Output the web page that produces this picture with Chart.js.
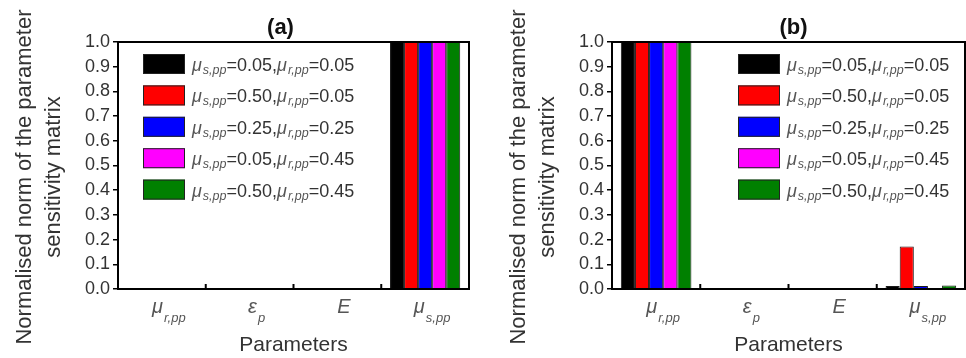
<!DOCTYPE html>
<html>
<head>
<meta charset="utf-8">
<script src="https://cdn.jsdelivr.net/npm/chart.js@4.4.1/dist/chart.umd.min.js"></script>
<style>
    body { margin: 0; background: #fff; }
    .row { display: flex; width: 966px; height: 358px; }
    .panel { position: relative; width: 483px; height: 358px; }
</style>
</head>
<body>
<div class="row">
    <div class="panel"><canvas id="chartA"></canvas></div>
    <div class="panel"><canvas id="chartB"></canvas></div>
</div>
<script>
// "_{...}" marks a subscript, letters outside it are set in italics
const categories = ['μ_{r,pp}', 'ε_{p}', 'E', 'μ_{s,pp}'];
const frictionCases = [
    'μ_{s,pp}=0.05,μ_{r,pp}=0.05',
    'μ_{s,pp}=0.50,μ_{r,pp}=0.05',
    'μ_{s,pp}=0.25,μ_{r,pp}=0.25',
    'μ_{s,pp}=0.05,μ_{r,pp}=0.45',
    'μ_{s,pp}=0.50,μ_{r,pp}=0.45'
];
const caseColors = ['#000000', '#ff0000', '#0000ff', '#ff00ff', '#008000'];

// one row per friction case, one value per parameter
const normsA = [
    [0, 0, 0, 1],
    [0, 0, 0, 1],
    [0, 0, 0, 1],
    [0, 0, 0, 1],
    [0, 0, 0, 1]
];
const normsB = [
    [1, 0, 0, 0.012],
    [1, 0, 0, 0.172],
    [1, 0, 0, 0.012],
    [1, 0, 0, 0],
    [1, 0, 0, 0.014]
];

const FONT = 'Liberation Sans, Arial, Helvetica, sans-serif';
const TEXT = '#333';
const SYMBOL = '#555';
Chart.defaults.font.family = FONT;

function parseRich(str) {
    const runs = [];
    const re = /_\{([^}]*)\}/g;
    let last = 0, m;
    const pushPlain = s => {
        // split letters (italic) from digits and signs
        s.split(/([A-Za-zα-ωΑ-Ω]+)/).forEach(part => {
            if (!part) return;
            runs.push({ t: part, kind: /[A-Za-zα-ωΑ-Ω]/.test(part) ? 'sym' : 'plain' });
        });
    };
    while ((m = re.exec(str)) !== null) {
        pushPlain(str.slice(last, m.index));
        runs.push({ t: m[1], kind: 'sub' });
        last = re.lastIndex;
    }
    pushPlain(str.slice(last));
    return runs;
}

function drawRich(ctx, str, x, y, size, subSize, subDrop, align) {
    const runs = parseRich(str);
    const fontOf = r => r.kind === 'plain' ? `${size}px ${FONT}` :
        r.kind === 'sub' ? `italic ${subSize}px ${FONT}` : `italic ${size}px ${FONT}`;
    let total = 0;
    runs.forEach(r => {
        ctx.font = fontOf(r);
        r.w = ctx.measureText(r.t).width + (r.kind === 'sym' ? 1 : 0);
        total += r.w;
    });
    let cx = align === 'center' ? x - total / 2 : x;
    ctx.textAlign = 'left';
    ctx.textBaseline = 'alphabetic';
    runs.forEach(r => {
        ctx.font = fontOf(r);
        ctx.fillStyle = r.kind === 'plain' ? TEXT : SYMBOL;
        ctx.fillText(r.t, cx, y + (r.kind === 'sub' ? subDrop : 0));
        cx += r.w;
    });
}

// panel title, frame, inner x ticks, rich x labels, y title and legend
const panelDecor = {
    id: 'panelDecor',
    afterDraw(chart, args, opts) {
        const { ctx, chartArea: a, scales: { x } } = chart;
        ctx.save();

        ctx.strokeStyle = '#000';
        ctx.lineWidth = 2;
        ctx.strokeRect(a.left, a.top, a.right - a.left, a.bottom - a.top);

        for (let i = 0; i < categories.length - 1; i++) {
            const bx = (x.getPixelForValue(i) + x.getPixelForValue(i + 1)) / 2;
            ctx.beginPath();
            ctx.moveTo(bx, a.bottom);
            ctx.lineTo(bx, a.bottom - 5);
            ctx.stroke();
        }

        categories.forEach((c, i) => {
            drawRich(ctx, c, x.getPixelForValue(i) + 7, a.bottom + 24, 20, 13, 9, 'center');
        });

        ctx.fillStyle = '#111';
        ctx.font = `bold 22px ${FONT}`;
        ctx.textAlign = 'center';
        ctx.textBaseline = 'middle';
        ctx.fillText(opts.title, (a.left + a.right) / 2 + opts.titleShift, 28);

        ctx.fillStyle = TEXT;
        ctx.font = `22px ${FONT}`;
        ['Normalised norm of the parameter', 'sensitivity matrix'].forEach((line, i) => {
            ctx.save();
            ctx.translate(a.left - 93 + i * 29, 177);
            ctx.rotate(-Math.PI / 2);
            ctx.fillText(line, 0, 0);
            ctx.restore();
        });

        const lx = opts.legendSide === 'left' ? a.left + 25 : a.right - 227;
        chart.data.datasets.forEach((ds, i) => {
            const cy = a.top + 22 + i * 31.4;
            ctx.fillStyle = ds.backgroundColor;
            ctx.fillRect(lx, cy - 10, 42, 20);
            ctx.strokeStyle = '#222';
            ctx.lineWidth = 1;
            ctx.strokeRect(lx + 0.5, cy - 9.5, 41, 19);
            drawRich(ctx, ds.label, lx + 49, cy + 7, 18, 12.5, 3, 'left');
        });

        ctx.restore();
    }
};

function makeChart(id, norms, decor) {
    return new Chart(document.getElementById(id), {
        type: 'bar',
        data: {
            labels: categories,
            datasets: frictionCases.map((label, i) => ({
                label: label,
                data: norms[i],
                backgroundColor: caseColors[i],
                borderColor: '#1a1a1a',
                borderWidth: 1,
                categoryPercentage: 0.8,
                barPercentage: 1
            }))
        },
        options: {
            responsive: true,
            maintainAspectRatio: false,
            animation: false,
            layout: { padding: { top: 42, right: decor.padRight, bottom: 0, left: 0 } },
            plugins: {
                legend: { display: false },
                tooltip: { enabled: false },
                panelDecor: decor
            },
            scales: {
                x: {
                    grid: { display: false },
                    border: { display: true, color: '#000', width: 2 },
                    ticks: { display: false },
                    title: {
                        display: true,
                        text: 'Parameters',
                        color: TEXT,
                        font: { size: 21 },
                        padding: { top: 0, bottom: 0 }
                    },
                    afterFit(scale) { scale.height = 69; }
                },
                y: {
                    min: 0,
                    max: 1,
                    ticks: {
                        stepSize: 0.1,
                        callback: v => v.toFixed(1),
                        color: TEXT,
                        font: { size: 18 },
                        padding: 3
                    },
                    grid: { drawOnChartArea: false, tickLength: 5, color: '#000', lineWidth: 1.5 },
                    border: { color: '#000', width: 2 },
                    afterFit(scale) { scale.width = decor.axisWidth; }
                }
            }
        },
        plugins: [panelDecor]
    });
}

makeChart('chartA', normsA, { title: '(a)', titleShift: -13, legendSide: 'left', axisWidth: 118, padRight: 14 });
makeChart('chartB', normsB, { title: '(b)', titleShift: 5, legendSide: 'right', axisWidth: 129, padRight: 1 });
</script>
</body>
</html>
